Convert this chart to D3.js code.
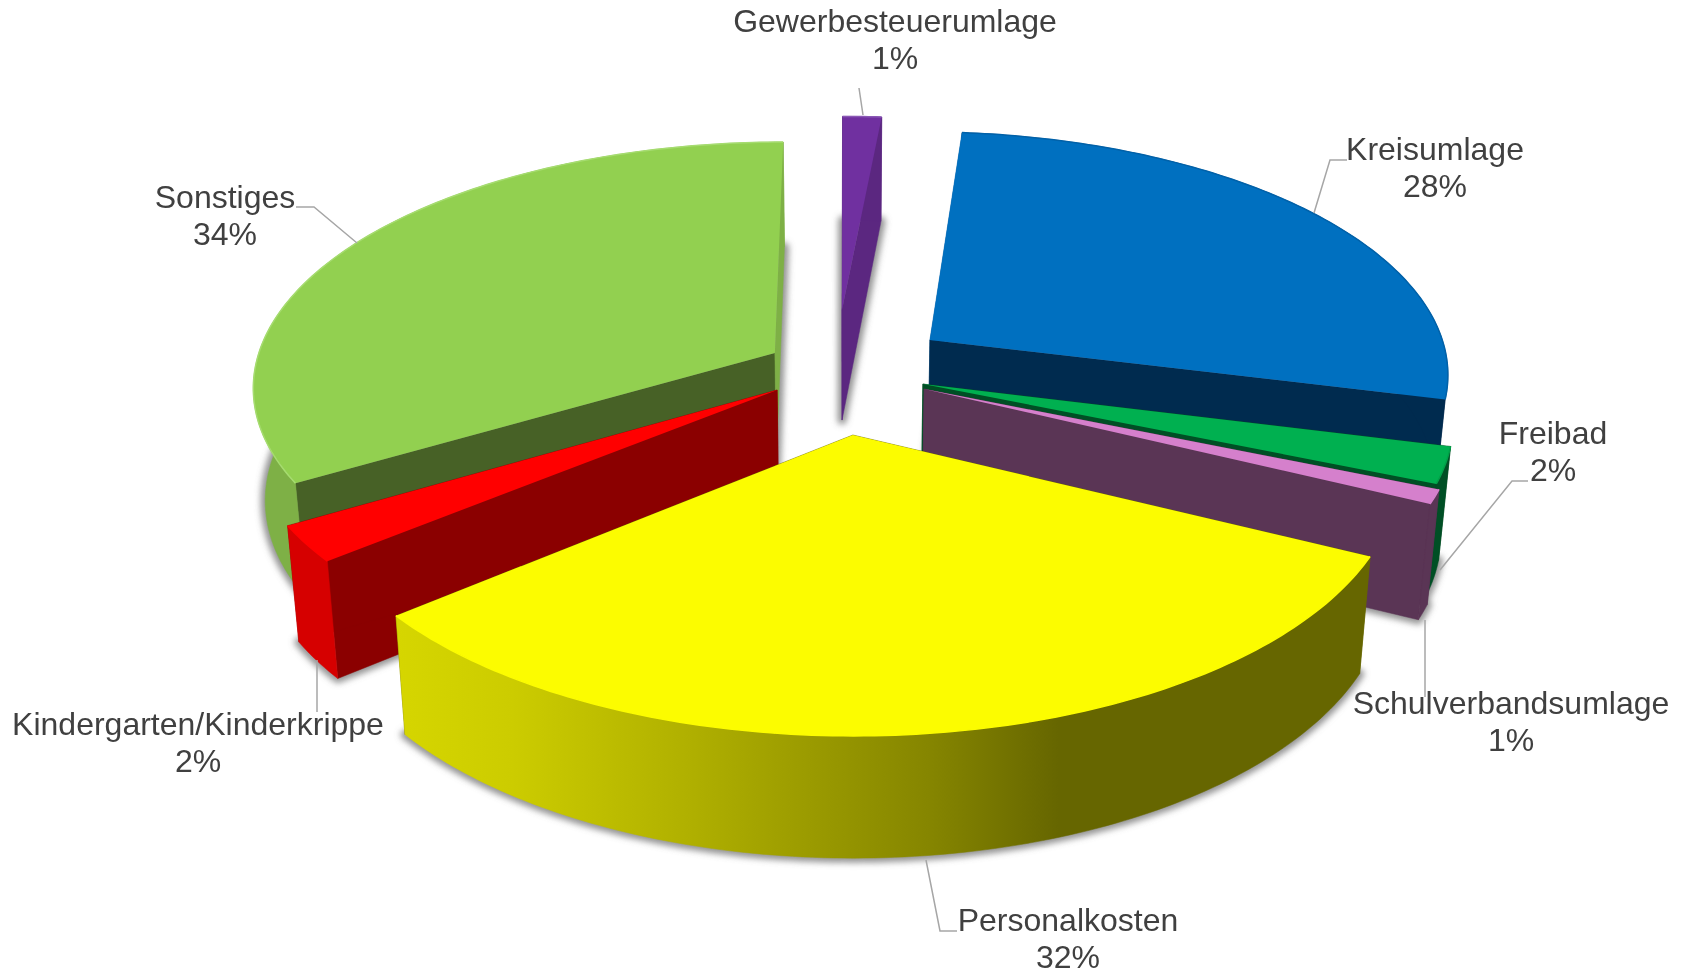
<!DOCTYPE html>
<html><head><meta charset="utf-8">
<script src="https://cdn.jsdelivr.net/npm/d3@7"></script>
<style>html,body{margin:0;padding:0;background:#fff}svg{display:block}text{font-family:"Liberation Sans",Arial,sans-serif;font-size:32px;fill:#404040}</style>
</head><body><svg id="c" width="1690" height="973"></svg>
<script>
// data
const categories=["Gewerbesteuerumlage","Kreisumlage","Freibad","Schulverbandsumlage","Personalkosten","Kindergarten/Kinderkrippe","Sonstiges"];
const shares=[1.45,27.5,2.36,0.92,31.83,2.39,33.55];
const percentLabels=["1%","28%","2%","1%","32%","2%","34%"];
// styles
const topColors=["#7030a0","#0070c0","#00b050","#d580cc","#fcfc00","#ff0000","#92d050"];
const startWall=["#5b2780","#0062aa","#004f25","#5a3555","#666600","#8b0000","#476126"];
const endWall=["#5b2780","#002b4f","#004f25","#5a3555","#666600","#8b0000","#7eb046"];
const outerWall=["#5b2780","#002b4f","#004f25","#5a3555","url(#yg)","#d60000","#7eb046"];
const edgeColors=["#8a58b5","#0062aa","#00a048","#d580cc","#fcfc00","#ff0000","#a6dc70"];
// layout: explode offset and radius of each slice in disc units, paint order, label anchors, leader lines
const offU=[-0.012,0.159,0.142,0.144,0.009,-0.134,-0.141];
const offV=[-0.279,-0.150,0.0325,0.0527,0.2335,0.0567,-0.095];
const radii=[0.95,0.995,0.995,0.995,1.0,0.995,0.995];
const paintOrder=[6,0,1,2,3,5,4];
const labelX=[895,1435,1553,1511,1068,198,225];
const labelY=[32,160,444,714,931,735,208];
const leaders=[[[859,88],[863,115]],[[1347,160],[1330,160],[1314,213]],[[1528,481],[1512,481],[1440,570]],[[1425,620],[1425,697]],[[957,931],[940,931],[926,860]],[[317,660],[317,712]],[[296,207],[314,207],[357,243]]];
const cx=848,cy=376,R=525,RT=245,P=0.13,Q=0.02,D=112;

const svg=d3.select("#c");
const defs=svg.append("defs");
const yg=defs.append("linearGradient").attr("id","yg").attr("x1","0").attr("x2","1").attr("y1","0").attr("y2","0");
[[0,"#d6d600"],[0.12,"#cccc00"],[0.3,"#b0b000"],[0.55,"#858500"],[0.68,"#666600"],[1,"#666600"]].forEach(d=>yg.append("stop").attr("offset",d[0]).attr("stop-color",d[1]));
const f=defs.append("filter").attr("id","sh").attr("x","-5%").attr("y","-5%").attr("width","110%").attr("height","110%");
f.append("feGaussianBlur").attr("stdDeviation",3.2);

function project(u,v,z){const s=1/(1-P*v);return [cx+R*u*s*(1-Q*z),cy+RT*v*s+D*z*Math.sqrt(s)];}
const line=d3.line();
const arcs=d3.pie().sort(null).startAngle(0).endAngle(2*Math.PI).value(d=>d)(shares);
function pt(i,a,z){const r=radii[i];return project(offU[i]+r*Math.sin(a),offV[i]-r*Math.cos(a),z);}
function rim(i,z){const a=arcs[i];const n=Math.max(3,Math.ceil((a.endAngle-a.startAngle)*60));return d3.range(n+1).map(k=>pt(i,a.startAngle+(a.endAngle-a.startAngle)*k/n,z));}
function apex(i,z){return project(offU[i],offV[i],z);}

const shadowG=svg.append("g").attr("filter","url(#sh)");
categories.forEach((c,i)=>{
  shadowG.append("path").attr("d",line([apex(i,1),...rim(i,1)])+"Z").attr("fill","#707070").attr("stroke","#707070").attr("stroke-width",9).attr("stroke-linejoin","round").attr("opacity",0.75);
});
const slices=svg.append("g");
paintOrder.forEach(i=>{
  const g=slices.append("g").attr("data-name",categories[i]);
  const t=rim(i,0),b=rim(i,1);
  const wall=(pts,fill)=>g.append("path").attr("d",line(pts)+"Z").attr("fill",fill).attr("stroke",fill).attr("stroke-width",0.5);
  wall([apex(i,0),t[0],b[0],apex(i,1)],startWall[i]);
  wall([apex(i,0),t[t.length-1],b[b.length-1],apex(i,1)],endWall[i]);
  wall([...t,...b.slice().reverse()],outerWall[i]);
  g.append("path").attr("d",line([apex(i,0),...t])+"Z").attr("fill",topColors[i]);
  g.append("path").attr("d",line(t)).attr("fill","none").attr("stroke",edgeColors[i]).attr("stroke-width",1.5);
});
const lg=svg.append("g");
leaders.forEach(l=>lg.append("path").attr("d",line(l)).attr("fill","none").attr("stroke","#a6a6a6").attr("stroke-width",1.5));
const tg=svg.append("g");
categories.forEach((c,i)=>{
  tg.append("text").attr("x",labelX[i]).attr("y",labelY[i]).attr("text-anchor","middle").text(c);
  tg.append("text").attr("x",labelX[i]).attr("y",labelY[i]+36.5).attr("text-anchor","middle").text(percentLabels[i]);
});
</script></body></html>
